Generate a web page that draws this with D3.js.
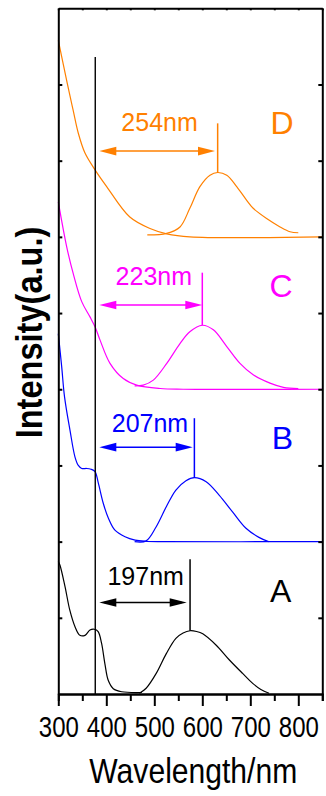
<!DOCTYPE html>
<html>
<head>
<meta charset="utf-8">
<script src="https://cdn.jsdelivr.net/npm/d3@7"></script>
<style>
  body { margin: 0; background: #fff; }
  svg { display: block; font-family: "Liberation Sans", Arial, sans-serif; }
</style>
</head>
<body>
<div id="chart"></div>
<script>
// 1. DATA  (wavelength nm, intensity relative to each sample's baseline)
const samples = ["A", "B", "C", "D"]
const offsets = [0, 2, 4, 6]
const colors = ["#000000", "#0000ff", "#ff00ff", "#ff8000"]

const absorbA = [[300,1.74],[303.5,1.69],[314,1.41],[324,1.10],[335,0.88],[345,0.77],[355.6,0.77],
  [366,0.84],[375,0.85],[383,0.82],[390,0.67],[397,0.40],[404,0.18],[414.6,0.07],[432,0.03],[474,0.02]]
const emitA = [[469,0.01],[483,0.075],[504,0.27],[525,0.53],[545,0.73],[560,0.80],[574.5,0.83],
  [588,0.82],[601,0.79],[629,0.64],[656,0.45],[684,0.27],[705,0.14],[722,0.06],[739,0.01]]

const absorbB = [[300,2.73],[307,2.30],[313,1.90],[324.4,1.46],[334.8,1.11],[341.7,1.0],[348.8,0.96],
  [359.2,0.96],[368,0.95],[376.5,0.92],[383.3,0.77],[393.8,0.50],[404.2,0.31],[418,0.15],[439,0.064],
  [460,0.02],[480,0.005],[520,0],[850,0]]
const emitB = [[459,0],[483,0.01],[504,0.196],[525,0.458],[545,0.677],[566,0.80],[583.5,0.84],
  [608,0.786],[635,0.61],[663,0.39],[691,0.175],[718,0.056],[738,0]]

const absorbC = [[300,2.46],[317.5,1.87],[331,1.52],[348.8,1.15],[366,0.95],[376.5,0.82],[387,0.645],
  [407.7,0.34],[435.4,0.14],[463.3,0.055],[512,0.01],[560,0],[850,0]]
const emitC = [[459,0.045],[477,0.055],[498,0.12],[526,0.34],[553.5,0.60],[574,0.755],[600,0.84],
  [623,0.78],[651,0.56],[678.5,0.34],[706,0.19],[741,0.08],[769,0.025],[800,0.01]]

const absorbD = [[300,2.58],[318.8,2.01],[331,1.66],[341.7,1.36],[355.6,1.10],[376.5,0.88],[400.8,0.66],
  [449,0.26],[491,0.11],[525.8,0.04],[574,0],[850,0]]
const emitD = [[485.4,0.025],[525.8,0.045],[553.5,0.13],[574,0.375],[595,0.66],[616,0.81],[632,0.845],
  [651,0.81],[671.7,0.66],[692.5,0.48],[706,0.375],[734,0.24],[762,0.13],[782.7,0.067],[800,0.054]]

const absorbData = [absorbA, absorbB, absorbC, absorbD]
const emitData = [emitA, emitB, emitC, emitD]

// annotations
const refLineNm = 377
const refLineTop = 8.36
const shiftLabels = ["197nm", "207nm", "223nm", "254nm"]
const peakNm = [574.5, 583.5, 600, 632]
const peakTop = [0.83, 0.84, 0.84, 0.845]
const peakLineTop = [1.77, 1.62, 1.53, 1.49]
const arrowStartNm = [385.4, 385.4, 385.4, 385.4]
const arrowEndNm = [567.5, 580, 600, 626.5]
const arrowY = [1.20, 1.24, 1.105, 1.126]
const labelNm = [482, 491, 499, 511]
const labelY = [1.43, 1.44, 1.37, 1.39]
const letterNm = [763.5, 766.7, 764, 766]
const letterY = [1.21, 1.22, 1.21, 1.345]

const xMajor = [300, 400, 500, 600, 700, 800]
const xMinor = [350, 450, 550, 650, 750, 850]
const yTicks = [1, 2, 3, 4, 5, 6, 7, 8]

// 2. DIMENSIONS
const dimensions = {
  width: 326,
  height: 796,
  margin: { top: 8.3, right: 3.7, bottom: 102, left: 58.3 }
}
dimensions.boundedWidth = dimensions.width - dimensions.margin.left - dimensions.margin.right
dimensions.boundedHeight = dimensions.height - dimensions.margin.top - dimensions.margin.bottom

// 3. DRAW CANVAS
const wrapper = d3.select("#chart")
  .append("svg")
  .attr("width", dimensions.width)
  .attr("height", dimensions.height)

const bounds = wrapper.append("g")
  .attr("transform", `translate(${dimensions.margin.left},${dimensions.margin.top})`)

// 4. SCALES
const xScale = d3.scaleLinear()
  .domain([300, 850])
  .range([0, dimensions.boundedWidth])
const yScale = d3.scaleLinear()
  .domain([0, 9])
  .range([dimensions.boundedHeight, 0])

// 5. DRAW DATA
const lineGen = d3.line()
  .x(d => xScale(d[0]))
  .y(d => yScale(d[1]))
  .curve(d3.curveCatmullRom.alpha(0.5))

samples.forEach((s, i) => {
  const off = offsets[i]
  const shift = arr => arr.map(d => [d[0], d[1] + off])
  bounds.append("path")
    .attr("d", lineGen(shift(absorbData[i])))
    .attr("fill", "none")
    .attr("stroke", colors[i])
    .attr("stroke-width", 1.2)
  bounds.append("path")
    .attr("d", lineGen(shift(emitData[i])))
    .attr("fill", "none")
    .attr("stroke", colors[i])
    .attr("stroke-width", 1.2)
})

// reference line
bounds.append("line")
  .attr("x1", xScale(refLineNm)).attr("x2", xScale(refLineNm))
  .attr("y1", yScale(refLineTop)).attr("y2", yScale(0))
  .attr("stroke", "#000")
  .attr("stroke-width", 1.4)

// annotations
samples.forEach((s, i) => {
  const off = offsets[i]
  const c = colors[i]
  // peak marker
  bounds.append("line")
    .attr("x1", xScale(peakNm[i])).attr("x2", xScale(peakNm[i]))
    .attr("y1", yScale(peakLineTop[i] + off)).attr("y2", yScale(peakTop[i] + off))
    .attr("stroke", c).attr("stroke-width", 1.5)
  // double arrow
  const ay = yScale(arrowY[i] + off)
  const x0 = xScale(arrowStartNm[i]), x1 = xScale(arrowEndNm[i])
  const headL = 17, headH = 4.3
  bounds.append("line")
    .attr("x1", x0 + 5).attr("x2", x1 - 5)
    .attr("y1", ay).attr("y2", ay)
    .attr("stroke", c).attr("stroke-width", 1.5)
  bounds.append("path")
    .attr("d", `M${x0},${ay}L${x0 + headL},${ay - headH}L${x0 + headL},${ay + headH}Z`)
    .attr("fill", c)
  bounds.append("path")
    .attr("d", `M${x1},${ay}L${x1 - headL},${ay - headH}L${x1 - headL},${ay + headH}Z`)
    .attr("fill", c)
  // shift label
  bounds.append("text")
    .attr("x", xScale(labelNm[i]))
    .attr("y", yScale(labelY[i] + off))
    .attr("text-anchor", "middle")
    .attr("fill", c)
    .style("font-size", "25px")
    .text(shiftLabels[i])
  // sample letter
  bounds.append("text")
    .attr("x", xScale(letterNm[i]))
    .attr("y", yScale(letterY[i] + off))
    .attr("text-anchor", "middle")
    .attr("fill", c)
    .style("font-size", "32px")
    .text(s)
})

// 6. PERIPHERALS
const styleAxis = g => {
  g.select(".domain").attr("stroke-width", 2)
  g.selectAll(".tick line").attr("stroke-width", 2)
}

const xAxis = bounds.append("g")
  .attr("transform", `translate(0,${dimensions.boundedHeight})`)
  .call(d3.axisBottom(xScale).tickValues(xMajor).tickSize(12).tickSizeOuter(0))
  .call(styleAxis)
xAxis.selectAll(".tick text")
  .attr("y", 42.7)
  .attr("dy", 0)
  .attr("fill", "#000")
  .attr("transform", "scale(0.8,1)")
  .style("font-size", "30px")
  .style("font-family", "'Liberation Sans', Arial, sans-serif")

bounds.append("g")
  .attr("transform", `translate(0,${dimensions.boundedHeight})`)
  .call(d3.axisBottom(xScale).tickValues(xMinor).tickSize(7).tickFormat(""))
  .call(styleAxis)

bounds.append("g")
  .call(d3.axisTop(xScale).tickValues(xMajor.concat(xMinor)).tickSize(-2).tickSizeOuter(0).tickFormat(""))
  .call(styleAxis)

bounds.append("g")
  .call(d3.axisLeft(yScale).tickValues(yTicks).tickSize(-4).tickSizeOuter(0).tickFormat(""))
  .call(styleAxis)

bounds.append("g")
  .attr("transform", `translate(${dimensions.boundedWidth},0)`)
  .call(d3.axisRight(yScale).tickValues(yTicks).tickSize(-4).tickSizeOuter(0).tickFormat(""))
  .call(styleAxis)

// axis titles
wrapper.append("text")
  .attr("transform", "translate(193.3,783.3) scale(0.86,1)")
  .attr("text-anchor", "middle")
  .attr("fill", "#000")
  .style("font-size", "35px")
  .text("Wavelength/nm")

wrapper.append("text")
  .attr("transform", "translate(41.7,332.5) rotate(-90) scale(0.88,1)")
  .attr("text-anchor", "middle")
  .attr("fill", "#000")
  .style("font-size", "37px")
  .style("font-weight", "bold")
  .text("Intensity(a.u.)")
</script>
</body>
</html>
